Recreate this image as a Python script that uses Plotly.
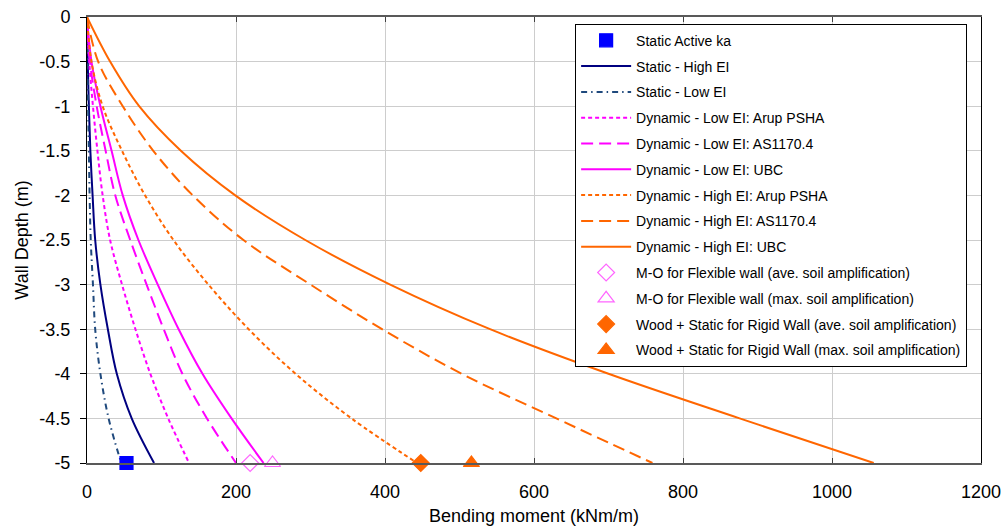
import plotly.graph_objects as go

# Wall depth (m) at which the bending moment profiles are sampled
depth = [0, -0.5, -1, -1.5, -2, -2.5, -3, -3.5, -4, -4.5, -5]

# Bending moment profiles (kNm/m)
static_high_ei = [0, 1, 2.5, 4.5, 7.5, 11, 18, 28, 40, 60, 90]
static_low_ei = [0, 0.5, 1.5, 2.5, 3.5, 5, 8, 11, 18, 29, 46]
dyn_low_arup = [0, 3, 8, 14, 21, 31, 47, 65, 85, 109, 137]
dyn_low_as1170 = [0, 4, 13, 25, 38, 58, 80, 103, 128, 161, 200]
dyn_low_ubc = [0, 6, 18, 33, 48, 69, 95, 123, 155, 194, 237]
dyn_high_arup = [0, 6, 21, 47, 78, 116, 163, 217, 280, 355, 443]
dyn_high_as1170 = [0, 15, 48, 89, 142, 210, 300, 396, 503, 630, 759]
dyn_high_ubc = [0, 31, 70, 126, 199, 293, 407, 541, 700, 876, 1056]

# Single-value results at the wall base
base_depth = -5
static_active_ka = 53
mo_flexible_ave = 219
mo_flexible_max = 249
wood_rigid_ave = 448
wood_rigid_max = 516

x_ticks = [0, 200, 400, 600, 800, 1000, 1200]
x_tick_labels = ["0", "200", "400", "600", "800", "1000", "1200"]
y_ticks = [0, -0.5, -1, -1.5, -2, -2.5, -3, -3.5, -4, -4.5, -5]
y_tick_labels = ["0", "-0.5", "-1", "-1.5", "-2", "-2.5", "-3", "-3.5", "-4", "-4.5", "-5"]

NAVY = "#000080"
SLATE = "#1F497D"
MAGENTA = "#FF00FF"
ORANGE = "#FF6600"
PINK = "#FF66FF"
BLUE = "#0000FF"

fig = go.Figure()


def add_line(x, name, color, dash, rank, width=2):
    fig.add_trace(go.Scatter(
        x=x, y=depth, mode="lines", name=name,
        line=dict(color=color, dash=dash, width=width, shape="spline", smoothing=1.0),
        legendgroup=name, legendrank=rank,
    ))


def add_point(x, name, symbol, color, size, rank):
    fig.add_trace(go.Scatter(
        x=[x], y=[base_depth], mode="markers", name=name,
        marker=dict(symbol=symbol, color=color, size=size,
                    line=dict(color=color, width=1.2)),
        cliponaxis=False, legendgroup=name, legendrank=rank,
    ))


add_line(static_high_ei, "Static - High EI", NAVY, "solid", 2)
add_line(static_low_ei, "Static - Low EI", SLATE, "6px,4px,1.5px,4px", 3)
add_line(dyn_low_arup, "Dynamic - Low EI: Arup PSHA", MAGENTA, "4px,3px", 4)
add_line(dyn_low_as1170, "Dynamic - Low EI: AS1170.4", MAGENTA, "12px,6px", 5)
add_line(dyn_low_ubc, "Dynamic - Low EI: UBC", MAGENTA, "solid", 6)
add_line(dyn_high_arup, "Dynamic - High EI: Arup PSHA", ORANGE, "4px,3px", 7)
add_line(dyn_high_as1170, "Dynamic - High EI: AS1170.4", ORANGE, "12px,6px", 8)
add_line(dyn_high_ubc, "Dynamic - High EI: UBC", ORANGE, "solid", 9)

add_point(static_active_ka, "Static Active ka", "square", BLUE, 13, 1)
add_point(mo_flexible_ave, "M-O for Flexible wall (ave. soil amplification)",
          "diamond-open", PINK, 13, 10)
add_point(mo_flexible_max, "M-O for Flexible wall (max. soil amplification)",
          "triangle-up-open", PINK, 14, 11)
add_point(wood_rigid_ave, "Wood + Static for Rigid Wall (ave. soil amplification)",
          "diamond", ORANGE, 13, 12)
add_point(wood_rigid_max, "Wood + Static for Rigid Wall (max. soil amplification)",
          "triangle-up", ORANGE, 14, 13)

FONT = "Liberation Sans, Arial, sans-serif"

fig.update_layout(
    width=1005, height=529,
    margin=dict(l=87, r=24, t=17, b=66),
    paper_bgcolor="white", plot_bgcolor="white",
    font=dict(family=FONT, color="black", size=18),
    showlegend=True,
    legend=dict(
        x=0.546, y=0.985, xanchor="left", yanchor="top",
        bgcolor="white", bordercolor="black", borderwidth=1,
        font=dict(family=FONT, size=14, color="black"),
        tracegroupgap=4.6, itemwidth=50, traceorder="grouped",
        entrywidth=352, entrywidthmode="pixels",
    ),
    xaxis=dict(
        range=[0, 1200], tickvals=x_ticks, ticktext=x_tick_labels,
        showgrid=True, gridcolor="#CDCDCD", gridwidth=1,
        showline=True, linecolor="#595959", linewidth=2, mirror="ticks",
        ticks="inside", ticklen=5, tickcolor="#404040",
        ticklabelstandoff=11, zeroline=False, automargin=False,
        title=dict(text="Bending moment (kNm/m)", standoff=9,
                   font=dict(size=18)),
    ),
    yaxis=dict(
        range=[-5, 0], tickvals=y_ticks, ticktext=y_tick_labels,
        showgrid=True, gridcolor="#CDCDCD", gridwidth=1,
        showline=True, linecolor="black", linewidth=1, mirror=True,
        ticks="outside", ticklen=6, tickcolor="black",
        ticklabelstandoff=6, zeroline=False, automargin=False,
        title=dict(text="Wall Depth (m)", standoff=6, font=dict(size=18)),
    ),
)

fig.write_html("out.html")
